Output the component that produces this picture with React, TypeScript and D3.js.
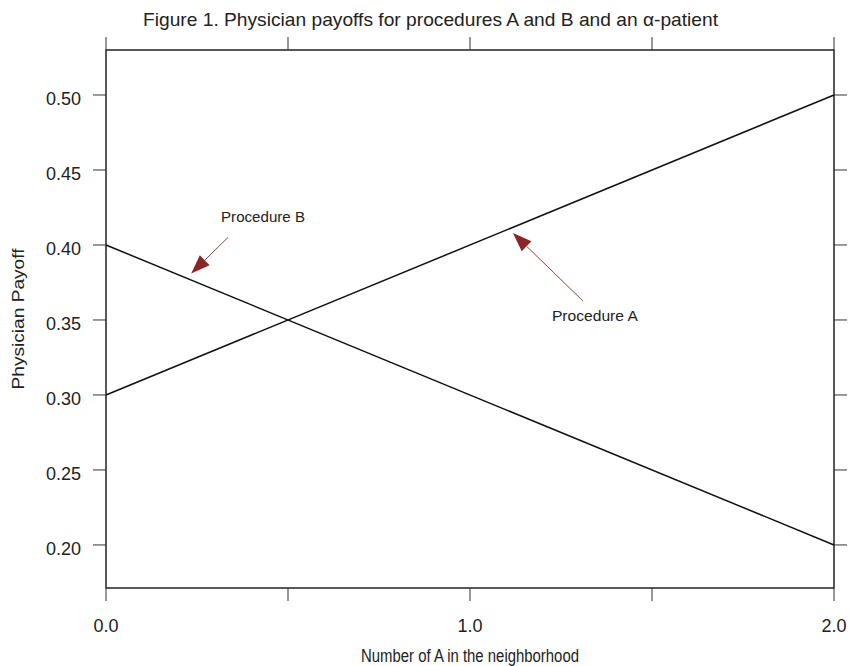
import React from "react";
import * as d3 from "d3";

// x values (number of A in the neighborhood)
const xValues = [0, 2];
const procedureA = [0.3, 0.5];
const procedureB = [0.4, 0.2];

const xTicks = [0, 0.5, 1, 1.5, 2];
const xTickLabels = ["0.0", "", "1.0", "", "2.0"];
const yTicks = [0.2, 0.25, 0.3, 0.35, 0.4, 0.45, 0.5];
const yTickLabels = ["0.20", "0.25", "0.30", "0.35", "0.40", "0.45", "0.50"];

// annotation arrows, in data units: [tailX, tailY, tipX, tipY]
const arrowB = [0.335, 0.405, 0.234, 0.381];
const arrowA = [1.31, 0.3627, 1.118, 0.408];
const labelB = { x: 0.316, y: 0.415, text: "Procedure B" };
const labelA = { x: 1.225, y: 0.349, text: "Procedure A" };

const width = 849;
const height = 666;
const margin = { top: 50, right: 15, bottom: 78, left: 106 };
const font = "'Liberation Sans', Arial, sans-serif";
const arrowColor = "#8b2626";

const App: React.FC = () => {
  const x = d3
    .scaleLinear()
    .domain([0, 2])
    .range([margin.left, width - margin.right]);
  const y = d3
    .scaleLinear()
    .domain([0.1713, 0.53])
    .range([height - margin.bottom, margin.top]);

  const line = d3
    .line<number>()
    .x((_, i) => x(xValues[i]))
    .y((d) => y(d));

  const [x0, x1] = x.range();
  const [y0, y1] = y.range();
  const tick = 13;

  const arrow = (a: number[], key: string) => {
    const tx = x(a[0]);
    const ty = y(a[1]);
    const hx = x(a[2]);
    const hy = y(a[3]);
    const ang = Math.atan2(hy - ty, hx - tx);
    const len = 19;
    const half = 7;
    const bx = hx - len * Math.cos(ang);
    const by = hy - len * Math.sin(ang);
    const px = -Math.sin(ang) * half;
    const py = Math.cos(ang) * half;
    return (
      <g key={key}>
        <line x1={tx} y1={ty} x2={bx} y2={by} stroke={arrowColor} strokeWidth={0.9} />
        <polygon
          points={`${hx},${hy} ${bx + px},${by + py} ${bx - px},${by - py}`}
          fill={arrowColor}
        />
      </g>
    );
  };

  return (
    <svg
      width={width}
      height={height}
      style={{ position: "absolute", left: 0, top: 0, background: "#fff" }}
      fontFamily={font}
    >
      <text x={143} y={26} fontSize={19} fill="#222" textLength={575} lengthAdjust="spacingAndGlyphs">
        Figure 1. Physician payoffs for procedures A and B and an α-patient
      </text>

      {/* frame */}
      <rect x={x0} y={y1} width={x1 - x0} height={y0 - y1} fill="none" stroke="#222" strokeWidth={1.5} />

      {/* x ticks top and bottom */}
      {xTicks.map((t, i) => (
        <g key={"xt" + i}>
          <line x1={x(t)} x2={x(t)} y1={y1} y2={y1 - tick} stroke="#333" strokeWidth={1} />
          <line x1={x(t)} x2={x(t)} y1={y0} y2={y0 + tick} stroke="#333" strokeWidth={1} />
          <text x={x(t)} y={y0 + 44} fontSize={18} fill="#222" textAnchor="middle">
            {xTickLabels[i]}
          </text>
        </g>
      ))}

      {/* y ticks left and right */}
      {yTicks.map((t, i) => (
        <g key={"yt" + i}>
          <line x1={x0} x2={x0 - tick} y1={y(t)} y2={y(t)} stroke="#333" strokeWidth={1} />
          <line x1={x1} x2={x1 + tick} y1={y(t)} y2={y(t)} stroke="#333" strokeWidth={1} />
          <text x={x0 - 25} y={y(t) + 10} fontSize={18} fill="#222" textAnchor="end">
            {yTickLabels[i]}
          </text>
        </g>
      ))}

      <text
        x={(x0 + x1) / 2}
        y={662}
        fontSize={18}
        fill="#222"
        textAnchor="middle"
        textLength={218}
        lengthAdjust="spacingAndGlyphs"
      >
        Number of A in the neighborhood
      </text>
      <text
        transform={`translate(24,${(y0 + y1) / 2}) rotate(-90)`}
        fontSize={17}
        fill="#222"
        textAnchor="middle"
        textLength={141}
        lengthAdjust="spacingAndGlyphs"
      >
        Physician Payoff
      </text>

      <path d={line(procedureA) ?? ""} fill="none" stroke="#111" strokeWidth={1.5} />
      <path d={line(procedureB) ?? ""} fill="none" stroke="#111" strokeWidth={1.5} />

      {arrow(arrowB, "b")}
      {arrow(arrowA, "a")}
      <text
        x={x(labelB.x)}
        y={y(labelB.y)}
        fontSize={15}
        fill="#222"
        textLength={84}
        lengthAdjust="spacingAndGlyphs"
      >
        {labelB.text}
      </text>
      <text
        x={x(labelA.x)}
        y={y(labelA.y)}
        fontSize={15}
        fill="#222"
        textLength={86}
        lengthAdjust="spacingAndGlyphs"
      >
        {labelA.text}
      </text>
    </svg>
  );
};

export default App;
